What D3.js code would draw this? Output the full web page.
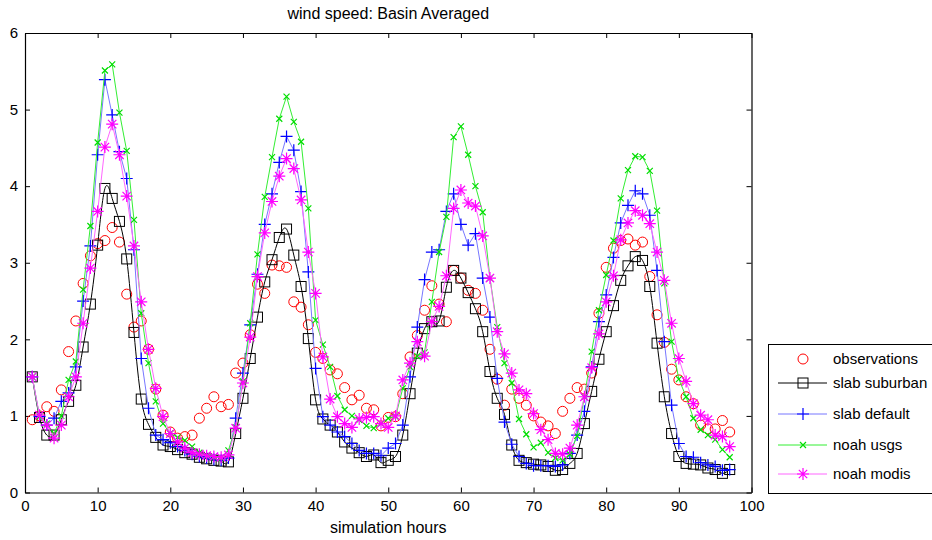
<!DOCTYPE html>
<html><head><meta charset="utf-8">
<script src="https://cdn.jsdelivr.net/npm/d3@7"></script>
<style>
html,body{margin:0;padding:0;background:#fff;}
svg text{font-family:"Liberation Sans",Arial,sans-serif;fill:#000;}
</style></head>
<body><svg id="c" width="932" height="540"></svg>
<script>
const hours = d3.range(1, 98);
const observations = [0.95,1.00,1.12,1.06,1.34,1.84,2.24,2.73,3.09,3.25,3.29,3.46,3.27,2.59,2.16,2.24,1.87,1.35,1.01,0.79,
0.71,0.73,0.75,0.97,1.10,1.25,1.12,1.15,1.56,1.69,2.06,2.72,2.60,2.97,2.96,2.94,2.49,2.42,2.19,1.83,
1.75,1.60,1.55,1.37,1.21,1.27,1.10,1.08,0.87,0.98,0.99,1.29,1.77,2.05,2.38,2.70,2.46,2.23,2.90,2.80,
2.64,2.60,2.38,1.87,1.48,1.14,1.35,1.23,1.14,1.00,0.92,0.87,0.77,1.06,1.23,1.37,1.35,1.56,2.34,2.94,
3.19,3.29,3.31,3.23,3.27,2.82,2.32,1.96,1.61,1.47,1.25,1.16,0.88,0.83,0.83,0.94,0.79];
const slabSuburban = [1.51,0.98,0.75,0.75,0.95,1.19,1.40,1.90,2.46,3.23,3.97,3.84,3.54,3.05,2.09,1.22,0.89,0.72,0.62,0.60,
0.56,0.52,0.50,0.46,0.44,0.42,0.41,0.40,0.77,1.23,1.75,2.29,2.75,3.04,3.33,3.44,3.10,2.69,2.01,1.21,
0.96,0.88,0.79,0.66,0.58,0.52,0.47,0.49,0.39,0.42,0.47,0.75,1.29,1.82,2.14,2.23,2.24,2.68,2.90,2.80,
2.61,2.40,2.10,1.58,1.23,1.02,0.62,0.42,0.39,0.37,0.36,0.34,0.29,0.30,0.38,0.51,0.90,1.32,1.74,2.10,
2.44,2.77,2.96,3.08,3.03,2.69,1.95,1.25,0.77,0.47,0.38,0.37,0.36,0.32,0.30,0.25,0.30];
const slabDefault = [1.51,0.99,0.88,0.97,1.19,1.30,1.64,2.50,3.22,4.41,5.39,4.93,4.45,4.10,3.17,1.75,1.10,0.75,0.69,0.65,
0.60,0.55,0.50,0.47,0.45,0.43,0.42,0.45,0.97,1.56,2.19,2.85,3.50,3.90,4.31,4.65,4.47,3.93,2.88,1.62,
0.99,0.88,0.79,0.73,0.64,0.55,0.51,0.51,0.48,0.58,0.64,0.88,1.51,2.16,2.78,3.14,3.17,3.67,3.90,3.50,
3.23,3.38,2.80,2.29,1.49,0.92,0.63,0.47,0.38,0.35,0.35,0.35,0.34,0.36,0.51,0.75,1.06,1.64,2.23,2.58,
3.07,3.52,3.75,3.94,3.90,3.62,2.90,1.97,1.14,0.64,0.47,0.46,0.39,0.36,0.34,0.29,0.30];
const noahUsgs = [1.51,0.99,0.90,0.77,1.00,1.47,1.71,2.65,3.48,4.57,5.51,5.59,4.96,4.46,3.56,2.34,1.69,1.19,0.90,0.77,
0.72,0.68,0.60,0.52,0.48,0.46,0.45,0.55,0.85,1.45,2.21,3.11,3.86,4.38,4.88,5.17,4.84,4.58,3.71,2.25,
1.93,1.64,1.26,1.08,1.00,0.95,0.87,0.84,0.90,0.97,0.99,1.36,1.64,1.78,1.83,2.49,3.14,3.60,4.64,4.78,
4.41,4.00,3.66,2.80,2.16,1.69,1.43,0.96,0.76,0.59,0.65,0.52,0.45,0.42,0.50,0.74,1.25,1.84,2.38,2.84,
3.29,3.84,4.21,4.39,4.38,4.20,3.68,2.73,1.97,1.48,1.25,0.97,0.82,0.75,0.69,0.56,0.46];
const noahModis = [1.51,1.01,0.88,0.71,0.88,1.25,1.51,2.21,2.93,3.67,4.51,4.81,4.41,3.87,3.22,2.49,1.87,1.36,0.99,0.77,
0.66,0.58,0.52,0.50,0.48,0.47,0.46,0.49,0.84,1.43,2.03,2.82,3.39,3.80,4.13,4.36,4.23,3.82,3.14,2.60,
1.77,1.22,0.99,0.90,0.85,0.96,0.98,0.99,0.90,0.85,1.00,1.47,1.69,1.97,1.78,2.23,2.43,2.83,3.71,3.95,
3.78,3.74,3.35,2.80,2.10,1.81,1.56,1.34,1.29,1.03,0.82,0.69,0.51,0.50,0.58,0.88,1.25,1.63,2.07,2.49,
2.83,3.30,3.52,3.68,3.62,3.51,3.14,2.77,2.21,1.75,1.45,1.16,1.01,0.95,0.75,0.73,0.60];
const xTicks = [0,10,20,30,40,50,60,70,80,90,100];
const yTicks = [0,1,2,3,4,5,6];
const seriesNames = ["observations","slab suburban","slab default","noah usgs","noah modis"];
const titleText = "wind speed: Basin Averaged";
const xLabel = "simulation hours";

const FONT = '"Liberation Sans",Arial,sans-serif';
const svg = d3.select("#c");
svg.append("rect").attr("width",932).attr("height",540).attr("fill","#fff");
const L=25, R=751.5, T=33, B=492.5;
const x = d3.scaleLinear().domain([0,100]).range([L,R]);
const y = d3.scaleLinear().domain([0,6]).range([B,T]);

const fs = 15;
const gb = svg.append("g").attr("transform",`translate(0,${B})`)
  .call(d3.axisBottom(x).tickValues(xTicks).tickSizeInner(-5).tickSizeOuter(0).tickPadding(8).tickFormat(d3.format("d")));
const gt = svg.append("g").attr("transform",`translate(0,${T})`)
  .call(d3.axisTop(x).tickValues(xTicks).tickSizeInner(-5).tickSizeOuter(0).tickFormat(""));
const gl = svg.append("g").attr("transform",`translate(${L},0)`)
  .call(d3.axisLeft(y).tickValues(yTicks).tickSizeInner(-5).tickSizeOuter(0).tickPadding(7).tickFormat(d3.format("d")));
const gr = svg.append("g").attr("transform",`translate(${R},0)`)
  .call(d3.axisRight(y).tickValues(yTicks).tickSizeInner(-5).tickSizeOuter(0).tickFormat(""));
[gb,gt,gl,gr].forEach(g=>{
  g.selectAll("path.domain").attr("stroke","#000").attr("stroke-width",1.2);
  g.selectAll(".tick line").attr("stroke","#000");
  g.selectAll("text").attr("font-family",FONT).attr("font-size",fs).attr("fill","#000");
});
svg.append("text").attr("x",(L+R)/2).attr("y",19).attr("text-anchor","middle").attr("font-family",FONT).attr("font-size",16).text(titleText);
svg.append("text").attr("x",(L+R)/2).attr("y",533).attr("text-anchor","middle").attr("font-family",FONT).attr("font-size",16).text(xLabel);

const plot = svg.append("g");
function pts(arr){return arr.map((v,i)=>[hours[i],v]);}
const lineStraight = d3.line().x(d=>x(d[0])).y(d=>y(d[1]));
const lineSmooth = d3.line().x(d=>x(d[0])).y(d=>y(d[1])).curve(d3.curveNatural);

function circleM(g,cx,cy,col){g.append("circle").attr("cx",cx).attr("cy",cy).attr("r",5).attr("fill","none").attr("stroke",col).attr("stroke-width",1);}
function squareM(g,cx,cy,col){g.append("rect").attr("x",cx-5).attr("y",cy-5).attr("width",10).attr("height",10).attr("fill","none").attr("stroke",col).attr("stroke-width",1);}
function plusM(g,cx,cy,col){g.append("path").attr("d",`M${cx-6},${cy}H${cx+6}M${cx},${cy-6}V${cy+6}`).attr("stroke",col).attr("stroke-width",1.2).attr("fill","none");}
function xM(g,cx,cy,col){const s=3;g.append("path").attr("d",`M${cx-s},${cy-s}L${cx+s},${cy+s}M${cx-s},${cy+s}L${cx+s},${cy-s}`).attr("stroke",col).attr("stroke-width",1.2).attr("fill","none");}
function starM(g,cx,cy,col){const s=6,d=4.2;g.append("path").attr("d",`M${cx-s},${cy}H${cx+s}M${cx},${cy-s}V${cy+s}M${cx-d},${cy-d}L${cx+d},${cy+d}M${cx-d},${cy+d}L${cx+d},${cy-d}`).attr("stroke",col).attr("stroke-width",1.2).attr("fill","none");}

const series = [
  {data:observations, line:null, lc:null, mc:"#ff0000", m:circleM},
  {data:slabSuburban, line:lineSmooth, lc:"#000000", mc:"#000000", m:squareM},
  {data:slabDefault, line:lineStraight, lc:"#7777ff", mc:"#0000ff", m:plusM},
  {data:noahUsgs, line:lineStraight, lc:"#33ee33", mc:"#00dd00", m:xM},
  {data:noahModis, line:lineStraight, lc:"#ff66ff", mc:"#ff00ff", m:starM}
];
series.forEach(s=>{
  const g = plot.append("g");
  const p = pts(s.data);
  if(s.line) g.append("path").attr("d",s.line(p)).attr("fill","none").attr("stroke",s.lc).attr("stroke-width",1);
  p.forEach(d=>s.m(g,x(d[0]),y(d[1]),s.mc));
});

const lg = svg.append("g");
lg.append("rect").attr("x",768.5).attr("y",344.5).attr("width",170).attr("height",149).attr("fill","#fff").attr("stroke","#000").attr("stroke-width",1);
const rowsY = [359,383,414,445,474];
series.forEach((s,i)=>{
  const yy = rowsY[i];
  if(s.line) lg.append("line").attr("x1",778).attr("x2",827).attr("y1",yy).attr("y2",yy).attr("stroke",s.lc).attr("stroke-width",1);
  s.m(lg,803,yy,s.mc);
  lg.append("text").attr("x",833).attr("y",yy+5).attr("font-family",FONT).attr("font-size",fs).text(seriesNames[i]);
});
</script></body></html>
